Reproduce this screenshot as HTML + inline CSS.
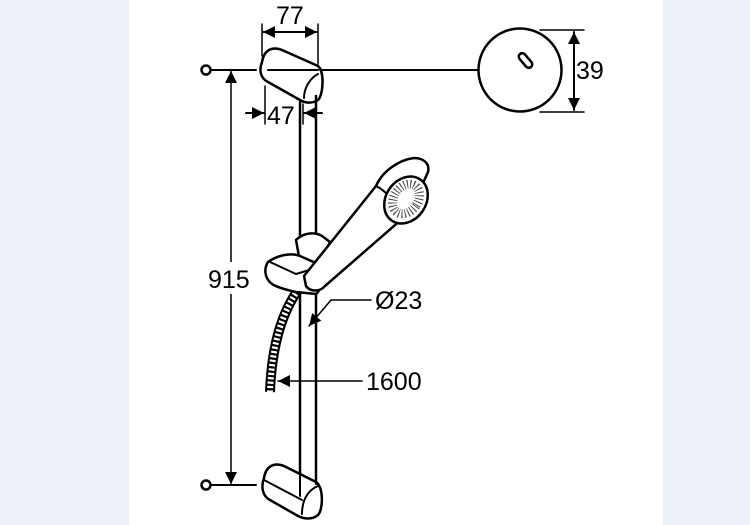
<!DOCTYPE html>
<html><head><meta charset="utf-8"><style>
html,body{margin:0;padding:0;background:#edf2fa;}
.w{position:absolute;left:129px;top:0;width:534px;height:525px;background:#fff;}
svg{position:absolute;left:0;top:0;}
text{font-family:"Liberation Sans",sans-serif;font-size:25px;fill:#000;stroke:none;}
</style></head><body>
<div class="w"></div>
<svg width="750" height="525" viewBox="0 0 750 525" fill="none" stroke="#000" stroke-width="2" stroke-linejoin="round" stroke-linecap="round">
<defs>
<marker id="a" viewBox="0 0 10 10" refX="10" refY="5" markerWidth="16" markerHeight="12" orient="auto-start-reverse" markerUnits="userSpaceOnUse"><path d="M0,0L10,5L0,10z" fill="#000" stroke="none"/></marker>
</defs>
<circle cx="206" cy="70" r="4.5" stroke-width="2.5"/>
<line x1="211" y1="70" x2="256" y2="70"/>
<line x1="268" y1="70" x2="478" y2="70"/>
<path d="M262,62 C264,50 272,46 282,50 L318,66 C325,72 323,96 318,100 C312,104 305,103 300,100 L268,82 C260,78 259,70 262,62z" fill="#fff" stroke-width="2.5"/>
<line x1="268" y1="70" x2="318" y2="70"/>
<path d="M318,74 C310,78 304,88 304,98"/>
<circle cx="520" cy="70" r="41.5" fill="#fff" stroke-width="2.5"/>
<rect x="522" y="52" width="7" height="17" rx="3.5" transform="rotate(-40 525.5 60.5)" stroke-width="2.5"/>
<line x1="540" y1="30" x2="584" y2="30" stroke-width="1.5"/>
<line x1="540" y1="112" x2="584" y2="112" stroke-width="1.5"/>
<line x1="574" y1="32" x2="574" y2="110" marker-start="url(#a)" marker-end="url(#a)"/>
<text x="576" y="79">39</text>
<line x1="262" y1="24" x2="262" y2="56" stroke-width="1.5"/>
<line x1="318" y1="24" x2="318" y2="64" stroke-width="1.5"/>
<line x1="263" y1="32" x2="317" y2="32" marker-start="url(#a)" marker-end="url(#a)"/>
<text x="276" y="24">77</text>
<line x1="265" y1="86" x2="265" y2="124" stroke-width="1.5"/>
<line x1="303" y1="104" x2="303" y2="124" stroke-width="1.5"/>
<line x1="246" y1="113" x2="264" y2="113" marker-end="url(#a)"/>
<line x1="322" y1="113" x2="304" y2="113" marker-end="url(#a)"/>
<text x="267" y="124">47</text>
<line x1="300" y1="102" x2="300" y2="490" stroke-width="2.5"/>
<line x1="316" y1="96" x2="316" y2="484" stroke-width="2.5"/>
<line x1="231" y1="71" x2="231" y2="484" marker-start="url(#a)" marker-end="url(#a)" stroke-width="1.5"/>
<rect x="206" y="262" width="50" height="32" fill="#fff" stroke="none"/>
<text x="208" y="288">915</text>
<circle cx="206" cy="485" r="4.5" stroke-width="2.5"/>
<line x1="211" y1="485" x2="256" y2="485"/>
<path d="M264,478 C266,466 274,462 284,466 L300,474 L316,482 C324,488 323,510 318,515 C312,520 304,519 298,516 L270,500 C262,496 261,486 264,478z" fill="#fff" stroke-width="2.5"/>
<path d="M264,480 L302,500"/>
<path d="M318,486 C308,490 302,500 302,514"/>
<line x1="300" y1="466" x2="300" y2="496"/>
<line x1="316" y1="460" x2="316" y2="484"/>
<path d="M298,290 C284,310 272,340 270,392" stroke-width="10" stroke-linecap="butt"/>
<path d="M298,290 C284,310 272,340 270,392" stroke="#fff" stroke-width="6" stroke-linecap="butt" stroke-dasharray="2.2 2.2"/>
<path d="M296,240 C304,232 316,232 322,236 L330,242 L320,262 L300,262z" fill="#fff" stroke-width="2.5"/>
<path d="M268,262 C276,256 290,252 300,256 L318,264 C324,272 322,290 316,294 L296,292 C288,290 278,288 272,284 C264,278 264,268 268,262z" fill="#fff" stroke-width="2.5"/>
<path d="M270,262 L296,274 L316,268"/>
<path d="M304,276 L376,186 C382,172 398,160 414,158 C424,158 430,164 428,172 L410,212 L325,286 C320,292 310,292 306,286z" fill="#fff" stroke-width="2.5"/>
<path d="M376,186 C384,190 390,196 392,204"/>
<ellipse cx="406" cy="200" rx="20" ry="25" transform="rotate(35 406 200)" fill="#fff" stroke-width="2.5"/>
<ellipse cx="406" cy="199" rx="12" ry="16" transform="rotate(35 406 199)" stroke="#444" stroke-width="9" stroke-dasharray="1 2.2" stroke-linecap="butt"/>
<line x1="371" y1="300" x2="331" y2="300" stroke-width="1.5"/>
<line x1="331" y1="300" x2="309" y2="326" marker-end="url(#a)" stroke-width="1.5"/>
<text x="375" y="309">Ø23</text>
<line x1="362" y1="381" x2="278" y2="381" marker-end="url(#a)" stroke-width="1.5"/>
<text x="366" y="390">1600</text>
</svg>
</body></html>
